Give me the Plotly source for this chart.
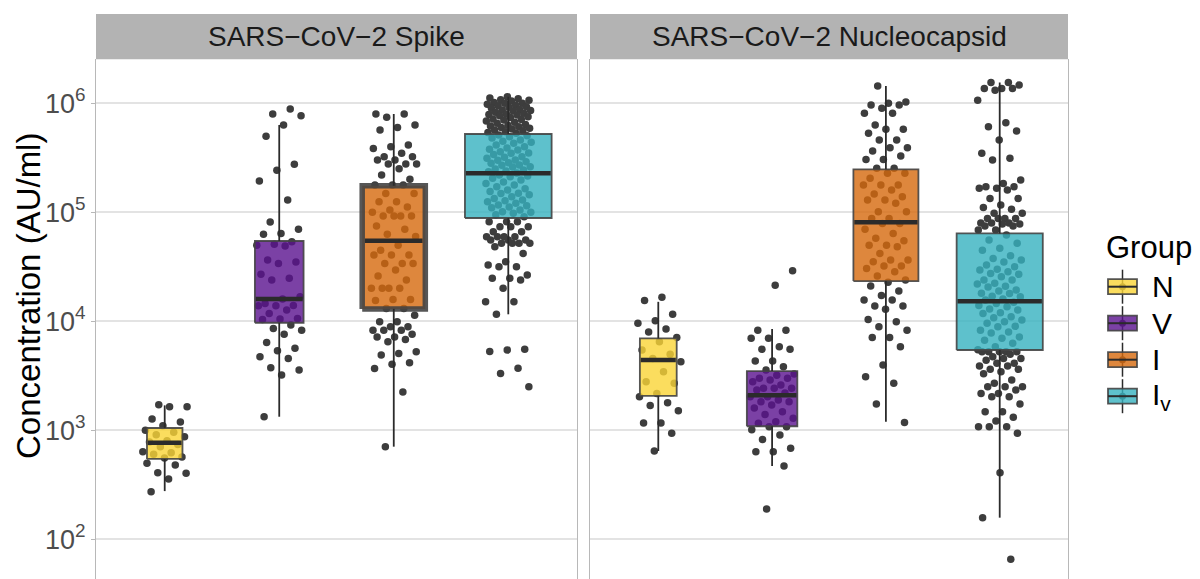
import numpy as np
import plotly.graph_objects as go

# ---------------- data ----------------
categories = ["N", "V", "I", "Iv"]
legend_labels = ["N", "V", "I", "I<sub>v</sub>"]
panel_titles = ["SARS\u2212CoV\u22122 Spike", "SARS\u2212CoV\u22122 Nucleocapsid"]
tick_values = [1e2, 1e3, 1e4, 1e5, 1e6]
tick_labels = ["10<sup>2</sup>", "10<sup>3</sup>", "10<sup>4</sup>", "10<sup>5</sup>", "10<sup>6</sup>"]

spike_N = [1718, 1647, 1647, 1270, 1191, 1102, 1000, 958, 912, 873, 803, 780, 740, 708,
           637, 623, 602, 569, 557, 498, 481, 408, 403, 357, 273]
spike_V = [887000, 798000, 771000, 632000, 498000, 276000, 243000, 194000, 130000, 81500,
           70000, 64000, 63000, 53700, 51000, 50000, 49000, 36500, 35000, 34000, 27000,
           24800, 24000, 16800, 16000, 14600, 14000, 13900, 13900, 12700, 11800, 10600,
           10500, 10400, 9250, 8600, 8300, 7600, 6400, 5650, 5370, 4730, 4570, 3750, 3570,
           3210, 1330]
spike_I = [798000, 798000, 745000, 632000, 600000, 570000, 414000, 400000, 386000, 348000,
           324000, 324000, 302000, 302000, 277000, 277000, 277000, 251000, 220000, 201000,
           178000, 178000, 178000,
           149000, 149000, 125000, 125000, 112000, 105000, 100000, 92500, 92500, 92500,
           92500, 74800, 70000, 63000, 60000, 50000, 45000, 40600, 40600, 40600, 34000,
           34000, 34000, 29600, 26000, 24000, 20100, 20100, 20100, 20100, 15900, 15900,
           15500, 13100, 13100,
           11400, 9900, 9900, 8900, 8900, 8300, 8300, 8300, 7600, 7200, 7200, 6800, 6500,
           5260, 5080, 4900, 4170, 4030, 3700, 2250, 708]
spike_Iv = [1150000, 1120000, 1100000, 1080000, 1070000, 1050000, 1020000, 1000000, 1000000,
            980000, 960000, 950000, 930000, 920000, 900000, 880000, 868000, 860000, 850000,
            830000, 810000, 800000, 790000, 780000, 770000, 754000, 740000, 720000, 710000,
            703000, 690000, 670000, 656000, 640000, 630000, 620000, 610000, 600000, 590000,
            580000, 569000, 560000, 550000, 540000, 531000,
            512000, 505000, 494000, 480000, 460000, 450000, 440000, 430000, 414000, 400000,
            390000, 380000, 373000, 360000, 350000, 348000, 340000, 324000, 320000, 313000,
            302000, 300000, 291000, 285000, 282000, 272000, 270000, 262000, 260000, 250000,
            244000, 240000, 236000, 230000, 220000, 215000, 212000, 205000, 198000, 190000,
            184000, 178000, 172000, 165000, 160000, 155000, 150000, 149000, 145000, 139000,
            134000, 130000, 128000, 125000, 121000, 117000, 115000, 112000, 110000, 105000,
            101000, 100000, 98000, 95000, 91000,
            82000, 82000, 82000, 73800, 73800, 73800, 66400, 66400, 59700, 59700, 59700,
            59700, 55700, 55700, 55700, 52000, 52000, 52000, 52000, 48400, 42000, 35200,
            32800, 31700, 31700, 26600, 24800, 24800, 23900, 20100, 15100, 15100, 11600,
            5530, 5450, 5300, 3710, 3330, 2510]

nuc_N = [16600, 15500, 11600, 10100, 9600, 8500, 8000, 7100, 6500, 5460, 5000, 4570, 4260,
         3450, 2790, 2700, 2180, 2030, 1790, 1690, 1510, 1170, 1170, 938, 646]
nuc_V = [29100, 21400, 8300, 8300, 6980, 6980, 5850, 5530, 5530, 4320, 4320, 3830, 3570,
         3290, 3200, 3000, 3000, 2900, 2790, 2600, 2430, 2430, 2430, 2340, 2200, 2030, 2030,
         1900, 1830, 1830, 1710, 1600, 1480, 1400, 1290, 1200, 1160, 1080, 1080, 1010, 906,
         826, 684, 637, 637, 470, 190]
nuc_I = [1440000, 1030000, 1000000, 965000, 965000, 900000, 810000, 810000, 632000, 577000,
         577000, 531000, 460000, 460000, 392000, 392000, 366000, 329000, 306000, 306000,
         254000, 254000,
         228000, 228000, 205000, 178000, 178000, 178000, 160000, 147000, 139000, 130000,
         130000, 121000, 101000, 101000, 88000, 88000, 79000, 79000, 70000, 64000, 57700,
         55000, 50000, 50000, 48300, 42000, 36500, 36500, 35200, 32100, 32100, 30600, 28500,
         26100, 23900,
         22800, 21100, 19000, 17300, 15700, 15700, 13800, 13800, 12900, 10400, 9900, 8900,
         8300, 7100, 7100, 5850, 3970, 3100, 2700, 1740, 1180]
nuc_Iv = [1550000, 1550000, 1470000, 1370000, 1370000, 1370000, 1320000, 1070000, 664000,
          610000, 557000, 460000, 348000, 313000, 302000, 198000, 184000, 172000, 172000,
          166000, 166000, 160000, 134000, 134000, 117000, 111000, 107000, 98000, 98000, 88000,
          88000, 88000, 88000, 80000, 80000, 80000, 78000, 78000, 75000, 75000, 69000, 69000,
          62000, 55700, 52000, 46800, 45000, 40000, 37800, 36500, 35000, 32900, 31700, 30000,
          29600, 28500, 27500, 27000, 25600, 24000, 23900, 22300, 22000, 21000, 20700, 19400,
          19000, 18100, 18000, 17000, 16800, 16000, 15700, 15000, 14600, 14000, 13600, 13000,
          12700, 12000, 11800, 11000, 10800, 10300, 9900, 9600, 9000, 8900, 8300, 8000, 7800,
          7200, 7000, 6700, 6300, 5850,
          5500, 5260, 5260, 5260, 5260, 5260, 5000, 4730, 4570, 4570, 4400, 4120, 4120, 3890,
          3900, 3630, 3630, 3450, 3300, 2900, 2700, 2510, 2510, 2510, 2340, 2180, 2180, 2030,
          2030, 1740, 1480, 1480, 1320, 1220, 1080, 1080, 1080, 938, 408, 158, 65.5]

# box statistics (lower whisker, Q1, median, Q3, upper whisker)
spike_lo = [277, 1333, 708, 11600]
spike_q1 = [546, 9700, 13000, 88700]
spike_med = [770, 16000, 55000, 228000]
spike_q3 = [1050, 54600, 175000, 523000]
spike_hi = [1695, 632000, 798000, 1150000]

nuc_lo = [646, 470, 1200, 158]
nuc_q1 = [2070, 1090, 23400, 5460]
nuc_med = [4420, 2100, 81000, 15300]
nuc_q3 = [6980, 3500, 248000, 64000]
nuc_hi = [15100, 8500, 1440000, 1550000]

panels = [
    dict(points=[spike_N, spike_V, spike_I, spike_Iv],
         lo=spike_lo, q1=spike_q1, med=spike_med, q3=spike_q3, hi=spike_hi),
    dict(points=[nuc_N, nuc_V, nuc_I, nuc_Iv],
         lo=nuc_lo, q1=nuc_q1, med=nuc_med, q3=nuc_q3, hi=nuc_hi),
]

# ---------------- style ----------------
W, H = 1200, 579
FONT = "Liberation Sans, Arial, Helvetica, sans-serif"
fills = {"N": "rgba(250,212,54,0.8)", "V": "rgba(90,18,142,0.8)",
         "I": "rgba(214,105,12,0.8)", "Iv": "rgba(54,178,191,0.8)"}
box_line = "rgba(68,68,68,0.9)"
dark = "#2b2b2b"
point_color = "#3d3d3d"
max_box_width = 0.757
jitter_half = 0.2
thick_border = {(0, "I"): 5.5}   # the highlighted box in the Spike panel

panel_px = [(96, 577), (590, 1068)]
panel_top_px = 59.3
strip_top_px = 14
y_range = [1.636, 6.404]


def px_x(v):
    return v / W


def px_y(v):
    return 1 - v / H


fig = go.Figure()

for p, panel in enumerate(panels):
    xa = "x" if p == 0 else "x2"
    ya = "y" if p == 0 else "y2"
    counts = [len(v) for v in panel["points"]]
    nmax = max(counts)
    for g, cat in enumerate(categories):
        c = g + 1
        vals = np.array(panel["points"][g], dtype=float)
        n = len(vals)
        # deterministic low-discrepancy jitter
        offs = ((np.arange(n) * 0.6180339887 + 0.37 * (g + 1) + 0.21 * p) % 1.0 - 0.5) * 2 * jitter_half
        fig.add_trace(go.Scatter(
            x=c + offs, y=vals, mode="markers", xaxis=xa, yaxis=ya,
            marker=dict(size=7.5, color=point_color, line=dict(width=0)),
            hoverinfo="skip", showlegend=False))
        w = max_box_width * np.sqrt(counts[g] / nmax)
        q1, q3 = panel["q1"][g], panel["q3"][g]
        lw = thick_border.get((p, cat), 1.8)
        # box body
        fig.add_trace(go.Scatter(
            x=[c - w / 2, c + w / 2, c + w / 2, c - w / 2, c - w / 2],
            y=[q1, q1, q3, q3, q1], mode="lines", fill="toself",
            fillcolor=fills[cat], line=dict(color=box_line, width=lw),
            xaxis=xa, yaxis=ya, hoverinfo="skip", showlegend=False))
        # whiskers
        fig.add_trace(go.Scatter(
            x=[c, c, None, c, c],
            y=[q3, panel["hi"][g], None, panel["lo"][g], q1],
            mode="lines", line=dict(color=dark, width=1.8),
            xaxis=xa, yaxis=ya, hoverinfo="skip", showlegend=False))
        # median
        fig.add_trace(go.Scatter(
            x=[c - w / 2 + lw / 2 / 114, c + w / 2 - lw / 2 / 114],
            y=[panel["med"][g]] * 2, mode="lines",
            line=dict(color=dark, width=4.5),
            xaxis=xa, yaxis=ya, hoverinfo="skip", showlegend=False))

axis_common_x = dict(range=[0.4, 4.6], showgrid=False, zeroline=False,
                     showticklabels=False, ticks="", showline=False, fixedrange=True)
axis_common_y = dict(type="log", range=y_range,
                     domain=[0, px_y(panel_top_px)],
                     tickvals=tick_values, ticktext=tick_labels,
                     showgrid=True, gridcolor="#e3e3e3", gridwidth=1.5,
                     zeroline=False, showline=True, mirror=True,
                     linecolor="#b8b8b8", linewidth=1.2,
                     ticks="outside", ticklen=4, tickcolor="#b8b8b8", tickwidth=1.2,
                     tickfont=dict(family=FONT, size=27, color="#4d4d4d"))

fig.update_layout(
    width=W, height=H,
    margin=dict(l=0, r=0, t=0, b=0),
    paper_bgcolor="white", plot_bgcolor="white",
    showlegend=False,
    xaxis=dict(domain=[px_x(panel_px[0][0]), px_x(panel_px[0][1])], anchor="y", **axis_common_x),
    xaxis2=dict(domain=[px_x(panel_px[1][0]), px_x(panel_px[1][1])], anchor="y2", **axis_common_x),
    yaxis=dict(anchor="x", **axis_common_y),
    yaxis2=dict(anchor="x2", matches="y", **{k: v for k, v in axis_common_y.items()}),
)
fig.update_layout(yaxis2=dict(showticklabels=False, ticks=""))

shapes = []
annotations = []

# facet strips
for p, (x0, x1) in enumerate(panel_px):
    shapes.append(dict(type="rect", xref="paper", yref="paper",
                       x0=px_x(x0), x1=px_x(x1), y0=px_y(panel_top_px), y1=px_y(strip_top_px),
                       fillcolor="#b3b3b3", line=dict(width=0), layer="above"))
    annotations.append(dict(xref="paper", yref="paper", x=px_x((x0 + x1) / 2),
                            y=px_y((panel_top_px + strip_top_px) / 2),
                            text=panel_titles[p], showarrow=False,
                            xanchor="center", yanchor="middle",
                            font=dict(family=FONT, size=28, color="#1a1a1a")))

# y-axis title
annotations.append(dict(xref="paper", yref="paper", x=px_x(28), y=px_y(296),
                        text="Concentration (AU/ml)", showarrow=False, textangle=-90,
                        xanchor="center", yanchor="middle",
                        font=dict(family=FONT, size=33, color="black")))

# legend (ggplot-like boxplot keys)
leg_x0, leg_x1 = 1108, 1137
leg_cx = (leg_x0 + leg_x1) / 2
leg_y0, leg_step = 286.7, 36.5
annotations.append(dict(xref="paper", yref="paper", x=px_x(1104), y=px_y(247),
                        text="Group", showarrow=False, xanchor="left", yanchor="middle",
                        font=dict(family=FONT, size=31, color="black")))
for g, cat in enumerate(categories):
    cy = leg_y0 + g * leg_step
    shapes.append(dict(type="line", xref="paper", yref="paper",
                       x0=px_x(leg_cx), x1=px_x(leg_cx), y0=px_y(cy - 17), y1=px_y(cy + 17),
                       line=dict(color=dark, width=1.5), layer="above"))
    shapes.append(dict(type="circle", xref="paper", yref="paper",
                       x0=px_x(leg_cx - 3.5), x1=px_x(leg_cx + 3.5),
                       y0=px_y(cy - 3.5), y1=px_y(cy + 3.5),
                       fillcolor=point_color, line=dict(width=0), layer="above"))
    shapes.append(dict(type="rect", xref="paper", yref="paper",
                       x0=px_x(leg_x0), x1=px_x(leg_x1), y0=px_y(cy - 7.5), y1=px_y(cy + 7.5),
                       fillcolor=fills[cat], line=dict(color=box_line, width=1.8), layer="above"))
    shapes.append(dict(type="line", xref="paper", yref="paper",
                       x0=px_x(leg_x0), x1=px_x(leg_x1), y0=px_y(cy), y1=px_y(cy),
                       line=dict(color=dark, width=2), layer="above"))
    annotations.append(dict(xref="paper", yref="paper", x=px_x(1150), y=px_y(cy),
                            text=legend_labels[g], showarrow=False,
                            xanchor="left", yanchor="middle",
                            font=dict(family=FONT, size=30, color="black")))

fig.update_layout(shapes=shapes, annotations=annotations)
fig.write_html("out.html")
